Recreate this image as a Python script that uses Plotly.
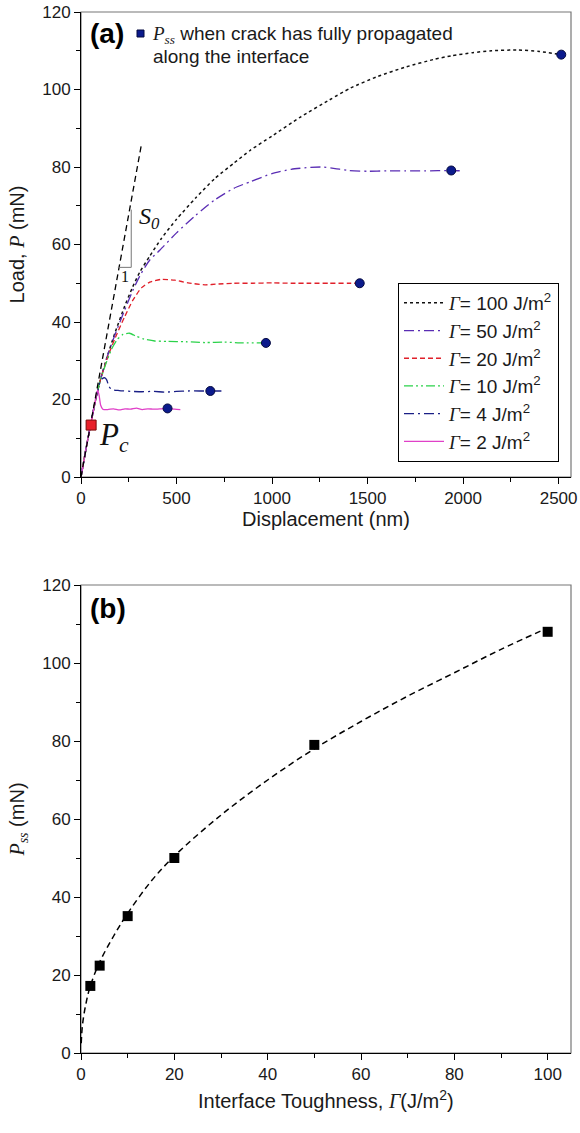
import plotly.graph_objects as go

# ---------------- DATA ----------------
# Panel (a): load-displacement curves (nm, mN)
d_g100 = [0, 25, 50, 75, 100, 140, 180, 228, 270, 309, 360, 420, 500, 600, 700, 800, 886, 1000, 1149, 1300, 1412, 1550, 1700, 1850, 1938, 2050, 2150, 2288, 2400, 2514]
p_g100 = [0, 7, 13.4, 19.6, 24.8, 31.5, 37.5, 44, 49, 53, 57, 61.5, 66.5, 72, 77, 81, 84.3, 88, 92.9, 97.3, 100.4, 103.3, 105.8, 107.8, 108.7, 109.5, 110, 110.2, 109.8, 109]

d_g50 = [0, 25, 50, 75, 100, 140, 180, 228, 270, 309, 360, 412, 500, 600, 700, 800, 886, 1000, 1100, 1200, 1263, 1330, 1400, 1500, 1600, 1700, 1800, 1938, 2000]
p_g50 = [0, 7, 13.4, 19.6, 24.8, 31.5, 37, 43, 48, 52, 56, 58.5, 63, 67.5, 71.5, 74.5, 76.2, 78.3, 79.4, 79.9, 80, 79.6, 79.1, 78.9, 79, 79, 79, 79.1, 79]

d_g20 = [0, 25, 50, 75, 100, 140, 180, 228, 270, 316, 360, 420, 491, 560, 649, 720, 800, 900, 1000, 1100, 1200, 1300, 1400, 1459]
p_g20 = [0, 7, 13.4, 19.6, 24.8, 31, 36, 41.3, 45.5, 48.8, 50.3, 51, 50.8, 50.1, 49.6, 49.8, 50, 50, 50.1, 50, 50, 50, 50, 50]

d_g10 = [0, 25, 50, 75, 100, 130, 160, 190, 220, 254, 290, 330, 386, 450, 550, 650, 750, 850, 968]
p_g10 = [0, 7, 13.4, 19.6, 24.8, 29.2, 33, 35.5, 36.8, 37.1, 36.3, 35.6, 35.1, 35, 34.9, 34.7, 34.8, 34.6, 34.6]

d_g4 = [0, 25, 50, 75, 100, 112, 125, 135, 145, 160, 200, 260, 320, 380, 440, 500, 560, 620, 677, 735]
p_g4 = [0, 7, 13.4, 19.6, 24.5, 25.4, 25.6, 25, 23.5, 22.6, 22.3, 22.1, 22, 22.1, 21.9, 22.1, 22.2, 22.2, 22.2, 22.2]

d_g2 = [0, 25, 50, 75, 87, 95, 103, 114, 140, 170, 200, 230, 260, 290, 320, 350, 380, 420, 453, 490, 520]
p_g2 = [0, 7, 13.4, 19.6, 22.4, 21, 18.5, 17.5, 17.4, 17.6, 17.3, 17.6, 17.5, 17.8, 17.4, 17.6, 17.5, 17.6, 17.7, 17.5, 17.4]

# End points (P_ss) where the crack has fully propagated
pss_d = [453, 677, 968, 1459, 1938, 2514]
pss_p = [17.7, 22.2, 34.6, 50, 79.1, 109]

# Critical load P_c
pc_d = [53]
pc_p = [13.4]

# Initial stiffness line S0
s0_d = [0, 317]
s0_p = [0, 86]

# Panel (b): P_ss vs interface toughness
gamma = [2, 4, 10, 20, 50, 100]
pss = [17.2, 22.4, 35.1, 50, 79, 108]
fit_g = [0.05, 0.3, 1, 2, 4, 7, 10, 15, 20, 30, 40, 50, 60, 70, 80, 90, 100]
fit_p = [2.5, 7, 12.3, 17.2, 23.3, 30, 35.8, 44, 50.5, 61, 70, 78, 85, 91.5, 97.5, 103.5, 109]

legend_labels = ["100", "50", "20", "10", "4", "2"]

# ---------------- LAYOUT HELPERS ----------------
W, H = 580, 1133
L, R, T, B = 81, 9, 12, 80
PW, PH = W - L - R, H - T - B


def fx(x):
    return (x - L) / PW


def fy(y):
    return (H - B - y) / PH


SANS = "Liberation Sans, Arial, sans-serif"
SERIF = "Liberation Serif, Times New Roman, serif"


def it(t):
    s = f"font-family:{SERIF};font-style:italic"
    return f"<span style='{s}'>{t}</span>"


G = it("Γ")

fig = go.Figure()

curves = [
    (d_g100, p_g100, "#111111", "dot", 1.5),
    (d_g50, p_g50, "#5a2db4", "10px,4px,2px,4px", 1.3),
    (d_g20, p_g20, "#e0202a", "5px,3px", 1.3),
    (d_g10, p_g10, "#2bd24a", "9px,3px,2px,3px,2px,3px", 1.3),
    (d_g4, p_g4, "#1a1f86", "10px,4px,2px,4px", 1.3),
    (d_g2, p_g2, "#e040c8", "solid", 1.3),
]
for i, (dx, dy, col, dash, w) in enumerate(curves):
    fig.add_trace(go.Scatter(
        x=dx, y=dy, mode="lines", line=dict(color=col, dash=dash, width=w, shape="spline", smoothing=0.6),
        name=f"{G}= {legend_labels[i]} J/m<sup>2</sup>", legendgroup=f"g{i}",
        xaxis="x", yaxis="y"))

fig.add_trace(go.Scatter(x=s0_d, y=s0_p, mode="lines", line=dict(color="black", dash="6px,4px", width=1.3),
                         showlegend=False, xaxis="x", yaxis="y"))
fig.add_trace(go.Scatter(x=pss_d, y=pss_p, mode="markers",
                         marker=dict(symbol="circle", size=9, color="#0b1a8c", line=dict(color="#050a40", width=1)),
                         showlegend=False, xaxis="x", yaxis="y"))
fig.add_trace(go.Scatter(x=pc_d, y=pc_p, mode="markers",
                         marker=dict(symbol="square", size=10, color="#e8202a", line=dict(color="#7a0a0a", width=1)),
                         showlegend=False, xaxis="x", yaxis="y"))

# panel b
fig.add_trace(go.Scatter(x=fit_g, y=fit_p, mode="lines", line=dict(color="black", dash="6px,4px", width=1.5, shape="spline"),
                         showlegend=False, xaxis="x2", yaxis="y2"))
fig.add_trace(go.Scatter(x=gamma, y=pss, mode="markers",
                         marker=dict(symbol="square", size=10, color="black"),
                         showlegend=False, xaxis="x2", yaxis="y2"))

tickfont = dict(family=SANS, size=17, color="#1a1a1a")
titlefont = dict(family=SANS, size=20, color="#1a1a1a")


def axis(**kw):
    base = dict(showline=True, linecolor="black", linewidth=1, mirror=False, ticks="outside", ticklen=6,
                tickcolor="black", tickwidth=1, showgrid=False, zeroline=False, tickfont=tickfont,
                automargin=False)
    base.update(kw)
    return base


fig.update_layout(
    width=W, height=H, margin=dict(l=L, r=R, t=T, b=B, autoexpand=False),
    paper_bgcolor="white", plot_bgcolor="white",
    xaxis=axis(domain=[0, 1], anchor="y", range=[0, 2565], dtick=500, tick0=0,
               minor=dict(ticks="outside", ticklen=4, tickcolor="black", dtick=250)),
    yaxis=axis(domain=[fy(477), 1], anchor="x", range=[0, 120], dtick=20,
               minor=dict(ticks="outside", ticklen=4, tickcolor="black", dtick=10),
               title=dict(text=f"Load, {it('P')} (mN)", font=titlefont, standoff=12)),
    xaxis2=axis(domain=[0, 1], anchor="y2", range=[0, 105], dtick=20,
                minor=dict(ticks="outside", ticklen=4, tickcolor="black", dtick=10)),
    yaxis2=axis(domain=[0, fy(585)], anchor="x2", range=[0, 120], dtick=20,
                minor=dict(ticks="outside", ticklen=4, tickcolor="black", dtick=10),
                title=dict(text=f"{it('P')}<sub>{it('ss')}</sub> (mN)", font=titlefont, standoff=12)),
    legend=dict(x=fx(398), y=fy(283), xanchor="left", yanchor="top", bgcolor="white",
                bordercolor="black", borderwidth=1, font=dict(family=SANS, size=19, color="#1a1a1a"),
                traceorder="grouped", tracegroupgap=0, itemwidth=40),
    showlegend=True,
)

# gray frame (top/right edges)
for xr, yr in (("x domain", "y domain"), ("x2 domain", "y2 domain")):
    fig.add_shape(type="rect", xref=xr, yref=yr, x0=0, x1=1, y0=0, y1=1,
                  line=dict(color="#777777", width=1.2), layer="below")

# S0 triangle
fig.add_shape(type="line", xref="x", yref="y", x0=263, x1=263, y0=54.1, y1=69, line=dict(color="#777777", width=1))
fig.add_shape(type="line", xref="x", yref="y", x0=193, x1=263, y0=54.1, y1=54.1, line=dict(color="#777777", width=1))

ann = []
ann.append(dict(x=fx(326), y=fy(519), xref="paper", yref="paper", xanchor="center", yanchor="middle",
                text="Displacement (nm)", showarrow=False, font=titlefont))
ann.append(dict(x=fx(326), y=fy(1099), xref="paper", yref="paper", xanchor="center", yanchor="middle",
                text=f"Interface Toughness, {G}(J/m<sup>2</sup>)", showarrow=False, font=titlefont))
ann.append(dict(x=fx(88), y=fy(34), xref="paper", yref="paper", xanchor="left", yanchor="middle",
                text="<b>(a)</b>", showarrow=False, font=dict(family=SANS, size=28, color="black")))
ann.append(dict(x=fx(88), y=fy(608), xref="paper", yref="paper", xanchor="left", yanchor="middle",
                text="<b>(b)</b>", showarrow=False, font=dict(family=SANS, size=28, color="black")))
ann.append(dict(x=fx(150), y=fy(35), xref="paper", yref="paper", xanchor="left", yanchor="middle",
                text=f"{it('P')}<sub>{it('ss')}</sub> when crack has fully propagated", showarrow=False,
                font=dict(family=SANS, size=19, color="#1a1a1a")))
ann.append(dict(x=fx(151), y=fy(57), xref="paper", yref="paper", xanchor="left", yanchor="middle",
                text="along the interface", showarrow=False, font=dict(family=SANS, size=19, color="#1a1a1a")))
ann.append(dict(x=fx(137), y=fy(218), xref="paper", yref="paper", xanchor="left", yanchor="middle",
                text=f"{it('S')}<sub>{it('0')}</sub>", showarrow=False, font=dict(family=SERIF, size=24, color="#111")))
ann.append(dict(x=fx(125), y=fy(277), xref="paper", yref="paper", xanchor="center", yanchor="middle",
                text="1", showarrow=False, font=dict(family=SERIF, size=16, color="#111")))
ann.append(dict(x=fx(97), y=fy(437), xref="paper", yref="paper", xanchor="left", yanchor="middle",
                text=f"{it('P')}<sub>{it('c')}</sub>", showarrow=False, font=dict(family=SERIF, size=31, color="#111")))
fig.update_layout(annotations=ann)

# small blue square marker in the note
fig.add_shape(type="rect", xref="paper", yref="paper", x0=fx(137), x1=fx(144), y0=fy(37), y1=fy(30),
              fillcolor="#0b1a8c", line=dict(color="#050a40", width=1))

fig.write_html("out.html", config={"displayModeBar": False},
               post_script="document.body.style.margin='0';document.body.style.padding='0';")
